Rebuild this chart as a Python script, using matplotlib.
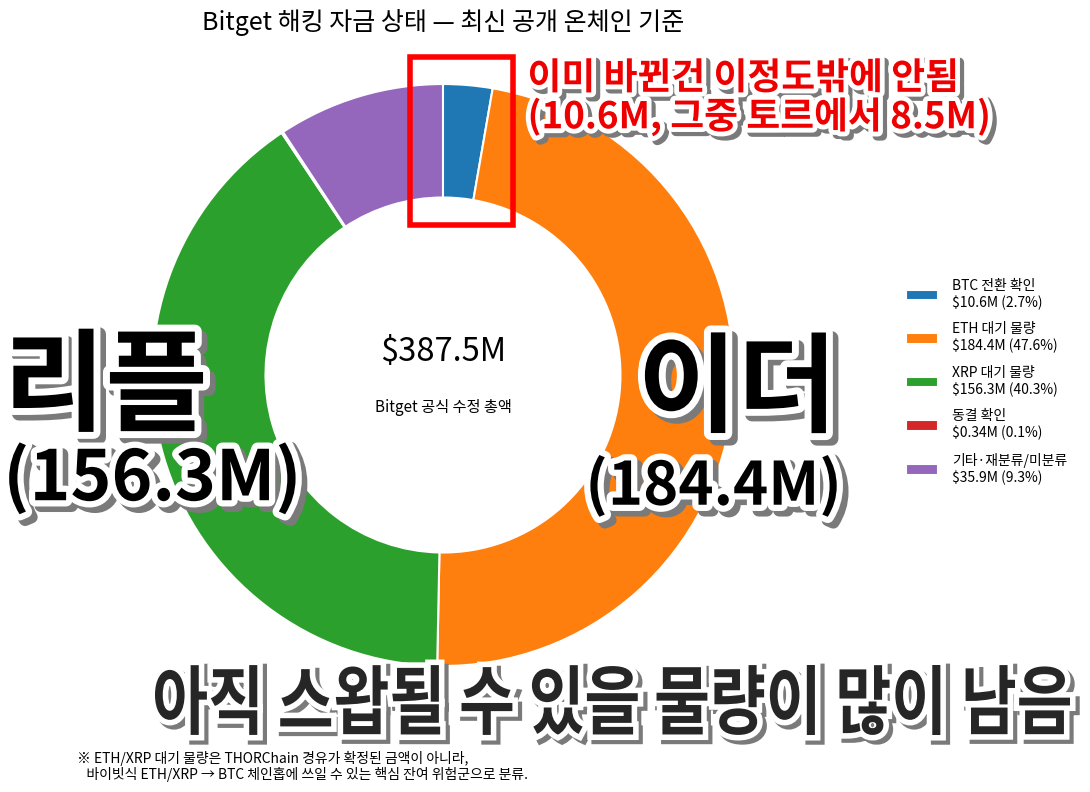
import matplotlib
matplotlib.use('Agg')
import matplotlib.pyplot as plt
import matplotlib.patheffects as pe
from matplotlib.patches import Rectangle, PathPatch
from matplotlib.textpath import TextPath
from matplotlib.font_manager import FontProperties
from matplotlib.transforms import Affine2D

plt.rcParams['font.family'] = ['Noto Sans CJK KR', 'DejaVu Sans']

# data
labels = ['BTC 전환 확인', 'ETH 대기 물량', 'XRP 대기 물량', '동결 확인', '기타·재분류/미분류']
values = [10.6, 184.4, 156.3, 0.34, 35.9]
colors = ['#1f77b4', '#ff7f0e', '#2ca02c', '#d62728', '#9467bd']
total = sum(values)

fig = plt.figure(figsize=(10.9, 7.92), dpi=100)
ax = fig.add_axes([0.1394, 0.1591, 0.534, 0.7348])

wedges, _ = ax.pie(values, colors=colors, startangle=90, counterclock=False,
                   radius=1.0, wedgeprops=dict(width=0.39, edgecolor='white', linewidth=1.5))
ax.set_xlim(-1, 1)
ax.set_ylim(-1, 1)
ax.set_aspect('equal')
ax.axis('off')

ax.text(0, 0.08, f'${total:.1f}M', ha='center', va='center', fontsize=23.5)
ax.text(0, -0.11, 'Bitget 공식 수정 총액', ha='center', va='center', fontsize=11)

fig.text(0.4064, 0.971, 'Bitget 해킹 자금 상태 — 최신 공개 온체인 기준',
         ha='center', va='center', fontsize=18)

# legend
leg_labels = [f'{l}\n${v:g}M ({v / total * 100:.1f}%)' for l, v in zip(labels, values)]
fig.legend(wedges, leg_labels, loc='center left', bbox_to_anchor=(0.826, 0.518),
           frameon=False, fontsize=10, handlelength=2.3, handleheight=0.8,
           handletextpad=1.0, labelspacing=0.9, borderaxespad=0)

# highlight box around BTC wedge
ax.add_patch(Rectangle((-0.113, 0.515), 0.354, 0.578, fill=False,
                       edgecolor='red', linewidth=4, clip_on=False, zorder=5))


def fx(lw, off=(3, -3)):
    return [pe.Stroke(offset=off, linewidth=lw, foreground='#7a7a7a'),
            pe.Stroke(linewidth=lw, foreground='white'),
            pe.Normal()]


fig.text(0.484, 0.876, '이미 바뀐건 이정도밖에 안됨\n(10.6M, 그중 토르에서 8.5M)',
         ha='left', va='center', fontsize=26.5, fontweight='bold', color='#ee0000',
         linespacing=1.0, path_effects=fx(7))

fig.text(0.003, 0.508, '리플', ha='left', va='center', fontsize=80,
         fontweight='black', color='black', path_effects=fx(10, (4, -4)))
fig.text(0.003, 0.395, '(156.3M)', ha='left', va='center', fontsize=50,
         fontweight='black', color='black', path_effects=fx(9, (4, -4)))

fig.text(0.585, 0.505, '이더', ha='left', va='center', fontsize=78,
         fontweight='black', color='black', path_effects=fx(10, (4, -4)))
fig.text(0.537, 0.385, '(184.4M)', ha='left', va='center', fontsize=43,
         fontweight='black', color='black', path_effects=fx(9, (4, -4)))

# bottom banner: condensed heavy text fitted into its box
banner = '아직 스왑될 수 있을 물량이 많이 남음'
tp = TextPath((0, 0), banner, size=1, prop=FontProperties(family='Noto Sans CJK KR', weight='heavy'))
bb = tp.get_extents()
bx0, by0, bw, bh = 155 / 1090, 57 / 792, 915 / 1090, 70 / 792
tr = Affine2D().translate(-bb.x0, -bb.y0).scale(bw / bb.width, bh / bb.height).translate(bx0, by0)
fig.add_artist(PathPatch(tr.transform_path(tp), transform=fig.transFigure,
                         facecolor='#262626', edgecolor='none', zorder=6,
                         path_effects=fx(8, (3, -3))))

fig.text(0.071, 0.032, '※ ETH/XRP 대기 물량은 THORChain 경유가 확정된 금액이 아니라,\n'
         '   바이빗식 ETH/XRP → BTC 체인홉에 쓰일 수 있는 핵심 잔여 위험군으로 분류.',
         ha='left', va='center', fontsize=10, linespacing=1.1)

fig.savefig('out.png', dpi=100)
